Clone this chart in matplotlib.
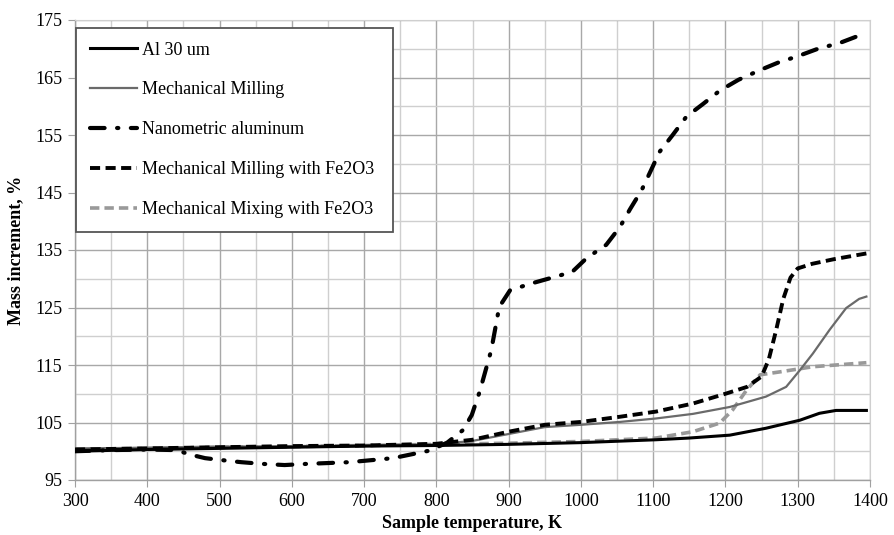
import matplotlib
matplotlib.use("Agg")
import matplotlib.pyplot as plt
from matplotlib.ticker import MultipleLocator

plt.rcParams['font.family'] = ['Liberation Serif', 'DejaVu Serif']

# Data
al_x = [300, 400, 500, 600, 700, 800, 900, 1000, 1104, 1150, 1206, 1256, 1303, 1330, 1353, 1395]
al_y = [100.0, 100.3, 100.5, 100.7, 100.9, 101.0, 101.2, 101.5, 102.0, 102.3, 102.8, 104.0, 105.4, 106.6, 107.1, 107.1]

mm_x = [300, 400, 500, 600, 700, 800, 850, 900, 950, 1000, 1054, 1104, 1155, 1206, 1256, 1284, 1303, 1321, 1344, 1367, 1385, 1395]
mm_y = [100.5, 100.6, 100.8, 100.9, 101.0, 101.2, 101.8, 103.0, 104.2, 104.6, 105.1, 105.7, 106.5, 107.7, 109.5, 111.2, 114.1, 117.0, 121.1, 124.9, 126.5, 126.9]

nano_x = [300, 350, 400, 440, 460, 480, 500, 530, 560, 590, 620, 680, 740, 790, 815, 837, 849, 860, 876, 887, 902, 932, 966, 988, 1008,
          1035, 1054, 1068, 1084, 1096, 1109, 1127, 1146, 1169, 1192, 1218, 1248, 1273, 1300, 1328, 1358, 1383]
nano_y = [100.0, 100.2, 100.3, 100.2, 99.4, 98.8, 98.5, 98.1, 97.8, 97.6, 97.8, 98.1, 98.8, 100.1, 101.5, 103.7, 106.3, 110.4, 117.6, 125.1, 128.0, 129.2, 130.4, 131.2, 133.6,
          135.9, 139.0, 142.1, 145.4, 148.6, 152.1, 155.0, 158.2, 160.4, 162.7, 164.6, 166.3, 167.6, 168.7, 170.0, 171.0, 172.2]

mmfe_x = [300, 400, 500, 600, 700, 800, 850, 900, 950, 1000, 1054, 1104, 1155, 1200, 1230, 1250, 1260, 1270, 1280, 1290, 1300, 1320, 1350, 1395]
mmfe_y = [100.3, 100.5, 100.7, 100.9, 101.0, 101.3, 102.0, 103.4, 104.6, 105.1, 106.0, 106.9, 108.3, 110.0, 111.2, 113.0, 116.0, 121.0, 126.5, 130.2, 131.8, 132.6, 133.4, 134.4]

mix_x = [300, 400, 500, 600, 700, 800, 900, 1000, 1104, 1155, 1192, 1210, 1229, 1248, 1275, 1321, 1395]
mix_y = [100.3, 100.5, 100.7, 100.8, 101.0, 101.2, 101.4, 101.7, 102.3, 103.4, 104.9, 107.2, 110.6, 113.3, 113.8, 114.7, 115.4]

labels = ["Al 30 um", "Mechanical Milling", "Nanometric aluminum",
          "Mechanical Milling with Fe2O3", "Mechanical Mixing with Fe2O3"]

y_ticks = [95, 105, 115, 125, 135, 145, 155, 165, 175]
x_ticks = [300, 400, 500, 600, 700, 800, 900, 1000, 1100, 1200, 1300, 1400]

fig = plt.figure(figsize=(8.94, 5.35), dpi=100)
ax = fig.add_axes([75/894, 1-480/535, 795/894, 460/535])

ax.plot(al_x, al_y, color='black', lw=2.2, label=labels[0], zorder=5)
ax.plot(mm_x, mm_y, color='#6a6a6a', lw=1.6, label=labels[1], zorder=4)
ax.plot(nano_x, nano_y, color='black', lw=3.0, label=labels[2], zorder=6,
        dashes=(3.5, 3.0, 0.3, 3.0), dash_capstyle='round')
ax.plot(mmfe_x, mmfe_y, color='black', lw=2.8, label=labels[3], zorder=5,
        dashes=(2.6, 1.4))
ax.plot(mix_x, mix_y, color='#999999', lw=2.6, label=labels[4], zorder=3,
        dashes=(2.6, 1.4))

ax.set_xlim(300, 1400)
ax.set_ylim(95, 175)
ax.set_xticks(x_ticks)
ax.set_yticks(y_ticks)
ax.xaxis.set_minor_locator(MultipleLocator(50))
ax.yaxis.set_minor_locator(MultipleLocator(5))

ax.grid(which='major', color='#a8a8a8', lw=1.0)
ax.grid(which='minor', color='#cfcfcf', lw=1.0)
ax.set_axisbelow(True)

for s in ['top', 'right']:
    ax.spines[s].set_color('#cfcfcf')
for s in ['left', 'bottom']:
    ax.spines[s].set_color('#a0a0a0')
    ax.spines[s].set_linewidth(1.0)

ax.tick_params(which='major', length=5, color='#a0a0a0', labelsize=13, pad=4)
ax.tick_params(which='minor', length=0)

ax.set_xlabel("Sample temperature, K", fontsize=13, fontweight='bold', labelpad=4)
ax.set_ylabel("Mass increment, %", fontsize=13, fontweight='bold', labelpad=8)

leg = ax.legend(loc='upper left', bbox_to_anchor=(0.0013, 0.0, 0.399, 0.9826),
                mode='expand', borderaxespad=0, fontsize=13, labelspacing=1.27,
                handlelength=2.6, handletextpad=0.3, borderpad=0.75,
                fancybox=False, framealpha=1, edgecolor='#555555')
leg.get_frame().set_linewidth(1.3)

fig.savefig("out.png", dpi=100)
